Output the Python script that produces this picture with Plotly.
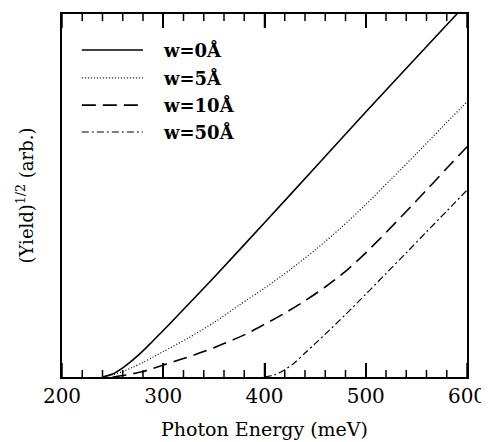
import plotly.graph_objects as go

# Data
e_w0 = [240, 250, 260, 270, 280, 290, 300, 310, 350, 400, 450, 500, 550, 590, 600]
y_w0 = [0.0, 0.008, 0.025, 0.047, 0.072, 0.100, 0.128, 0.157, 0.274, 0.425, 0.577, 0.730, 0.880, 1.0, 1.03]

e_w5 = [240, 250, 260, 270, 280, 290, 300, 325, 350, 375, 400, 425, 450, 475, 500, 525, 550, 575, 600]
y_w5 = [0.0, 0.006, 0.015, 0.027, 0.040, 0.055, 0.070, 0.108, 0.150, 0.198, 0.245, 0.295, 0.350, 0.410, 0.475, 0.545, 0.615, 0.687, 0.758]

e_w10 = [250, 260, 270, 280, 290, 300, 320, 340, 360, 380, 400, 420, 440, 460, 480, 500, 520, 540, 560, 580, 600]
y_w10 = [0.0, 0.004, 0.009, 0.015, 0.024, 0.033, 0.051, 0.070, 0.092, 0.116, 0.145, 0.176, 0.210, 0.248, 0.291, 0.342, 0.398, 0.456, 0.515, 0.575, 0.634]

e_w50 = [400, 410, 420, 430, 440, 450, 460, 480, 500, 520, 540, 560, 580, 600]
y_w50 = [0.0, 0.006, 0.020, 0.040, 0.066, 0.092, 0.118, 0.172, 0.228, 0.285, 0.342, 0.400, 0.457, 0.515]

labels = ["w=0Å", "w=5Å", "w=10Å", "w=50Å"]
major_ticks = list(range(200, 601, 100))
minor_ticks = [v for v in range(200, 601, 20) if v not in major_ticks]

styles = [
    dict(dash="solid", width=1.6),
    dict(dash="1px,2px", width=1.2),
    dict(dash="14px,7px", width=1.6),
    dict(dash="7px,3px,2px,3px", width=1.2),
]

series = [(e_w0, y_w0), (e_w5, y_w5), (e_w10, y_w10), (e_w50, y_w50)]

fig = go.Figure()
for (ex, ey), lab, st in zip(series, labels, styles):
    fig.add_trace(go.Scatter(x=ex, y=ey, mode="lines", name=lab,
                             line=dict(color="black", shape="spline", smoothing=0.8, **st),
                             showlegend=False))

FONT = "DejaVu Serif"

# Tick marks (inside, bottom and mirrored on top) placed through the x scale
MAJ = 14 / 363
MIN = 7 / 363
for vals, ln in ((major_ticks, MAJ), (minor_ticks, MIN)):
    for v in vals:
        fig.add_shape(type="line", xref="x", yref="paper", x0=v, x1=v, y0=0, y1=ln,
                      line=dict(color="black", width=1.5))
        fig.add_shape(type="line", xref="x", yref="paper", x0=v, x1=v, y0=1, y1=1 - ln,
                      line=dict(color="black", width=1.5))

# Manual legend (line samples + labels)
rows = [0.901, 0.824, 0.749, 0.675]
for lab, st, yy in zip(labels, styles, rows):
    fig.add_shape(type="line", xref="paper", yref="paper", x0=0.049, x1=0.2, y0=yy, y1=yy,
                  line=dict(color="black", **st))
    fig.add_annotation(xref="paper", yref="paper", x=0.245, y=yy, text="<b>" + lab + "</b>",
                       showarrow=False, xanchor="left", yanchor="middle",
                       font=dict(family=FONT, size=18, color="black"))

fig.update_layout(
    width=489, height=442,
    margin=dict(l=54, r=30, t=6, b=73, autoexpand=False),
    paper_bgcolor="white", plot_bgcolor="white",
    font=dict(family=FONT, size=19, color="black"),
    xaxis=dict(
        range=[200, 600], tickmode="array", tickvals=major_ticks,
        ticktext=[str(v) for v in major_ticks],
        ticks="inside", ticklen=14, tickwidth=2, tickcolor="black",
        showline=True, linecolor="black", linewidth=2, mirror="ticks",
        showgrid=False, zeroline=False,
        title=dict(text="Photon Energy (meV)", font=dict(family=FONT, size=19), standoff=16),
        tickfont=dict(family=FONT, size=20),
    ),
    yaxis=dict(
        range=[0, 1], showticklabels=False,
        showline=True, linecolor="black", linewidth=2, mirror=True,
        showgrid=False, zeroline=False,
        title=dict(text="(Yield)<sup>1/2</sup> (arb.)", font=dict(family=FONT, size=18), standoff=22),
    ),
)

fig.write_html("out.html")
